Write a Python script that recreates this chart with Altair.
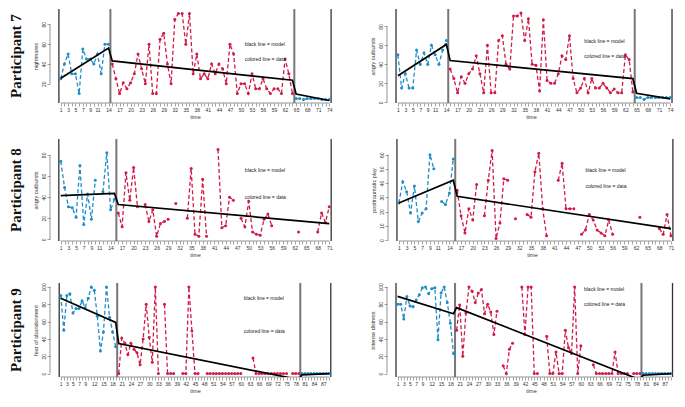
import altair as alt
import pandas as pd

BLUE = "#1f8dc6"
RED = "#d11a4a"

# ---------------- data ----------------
# Participant 7 - nightmares (baseline / intervention / follow-up)
p7n_a = [25, 40, 50, 30, 30, 10, 55, 45, 45, 40, 50, 30, 60, 60]
p7n_b = [40, 25, 10, 21, 15, 21, 30, 50, 35, 20, 60, 10, 10, 65, 71, 40, 20, 85, 91, 91,
         60, 91, 30, 50, 25, 30, 25, 40, 30, 40, 35, 20, 60, 50, 10, 20, 20, 10, 30, 15,
         15, 25, 15, 10, 15, 15, 10, 45, 30, 10]
p7n_c = [5, 5, 4, 5, 5, 5, 5, 4, 4, 4]
p7n_model_t = [1, 14, 15, 64, 65, 74]
p7n_model_y = [25.5, 56, 43, 23.5, 9.5, 3]

# Participant 7 - angry outbursts
p7a_a = [50, 15, 30, 15, 15, 55, 40, 52, 40, 60, 50, 40, 55, 65]
p7a_b = [35, 25, 10, 27, 20, 30, 35, 49, 30, 10, 60, 10, 10, 65, 70, 40, 35, 91, 91, 94,
         65, 88, 40, 39, 12, 87, 23, 20, 20, 30, 49, 45, 70, 25, 10, 15, 25, 10, 25, 15,
         15, 20, 15, 10, 14, 10, 10, 50, 45, 11]
p7a_c = [5, 5, 3, 5, 5, 5, 5, 5, 5, 5]
p7a_model_t = [1, 14, 15, 64, 65, 74]
p7a_model_y = [28, 61, 44, 25, 9.5, 3.7]

# Participant 8 - angry outbursts
p8a_a = [74, 49, 31, 30, 21, 70, 14, 43, 19, 56, None, 45, 82, 28, 38]
p8a_b = [25, 12, 63, 37, 68, 31, None, 33, 17, 28, 3, 15, 17, 19, None, 34, None, None,
         20, 67, 5, 3, 57, 3, None, None, 85, 11, 13, 40, 37, None, 20, 12, 36, 7, 5, 4,
         19, 24, 13, None, None, None, None, None, None, 7, None, None, None, None,
         7, 25, 16, 31]
p8a_model_t = [1, 15, 16, 71]
p8a_model_y = [41.5, 43.5, 33, 15]

# Participant 8 - posttraumatic play
p8p_a = [26, 41, 34, 19, 38, 13, 19, 22, 60, 50, None, 27, 25, 33, 57]
p8p_b = [35, 17, 5, 22, 14, 39, None, 17, 42, 63, 1, 12, 43, 42, None, 15, None, None,
         18, 16, 48, 61, 22, 3, None, None, 42, 54, 22, 22, 22, None, 4, 7, 18, 14, 7, 5,
         3, 14, 4, None, None, None, None, None, None, 16, None, None, None, None,
         8, 4, 18, 3]
p8p_model_t = [1, 15, 16, 71]
p8p_model_y = [26, 42, 30.7, 8]

# Participant 9 - fear of abandonment
p9f_a = [90, 50, 90, 92, 70, 75, 75, 84, 76, 87, 100, 96, 66, 26, 48, 100, 65, 48, 31]
p9f_b = [0, 41, 35, 22, 35, 28, 24, 10, 40, 80, 42, 13, 100, 0, None, 80, 0, 0, 0, None,
         None, 0, 0, 100, 49, 0, 0, None, None, 0, 0, 0, 0, 0, 0, 0, 0, 0, 0, 0, 0,
         None, None, None, 18, 0, 0, 0, 0, 0, 0, 0, 0, 0, 0, 0, None, 0, 0, 0]
p9f_c = [0, 0, 0, 0, 0, 0, 0, 0, 0, 0]
p9f_model_t = [1, 19, 20, 79, 80, 89]
p9f_model_y = [87, 59, 34.6, -7, -1.5, 0]

# Participant 9 - intense distress
p9d_a = [80, 80, 63, 89, 78, 77, 85, 91, 99, 100, 92, 98, 99, 39, 93, 100, 82, 58, 23]
p9d_b = [50, 79, 20, 70, 100, 95, 82, 93, 97, 69, 80, 71, 45, 72, None, 9, 0, 28, 35, None,
         None, 100, 45, 100, 100, 0, 0, None, None, 43, 0, 0, 25, 0, 0, 50, 30, 23, 100, 0,
         32, None, None, None, 10, 0, 0, 0, 0, 0, 0, 25, 0, 0, 0, 0, None, 0, 0, 0]
p9d_c = [0, 0, 0, 0, 0, 0, 0, 0, 0, 0]
p9d_model_t = [1, 19, 20, 79, 80, 89]
p9d_model_y = [89, 69, 76, -7.2, -2, 0]

# tick labels
p7_ticks = [1, 3, 5, 7, 9, 11, 14, 17, 20, 23, 26, 29, 32, 35, 38, 41, 44, 47, 50, 53, 56,
            59, 62, 65, 68, 71, 74]
p8_ticks = [1, 3, 5, 7, 9, 11, 14, 17, 20, 23, 26, 29, 32, 35, 38, 41, 44, 47, 50, 53, 56,
            59, 62, 65, 68, 71]
p9_ticks = [1, 3, 5, 7, 9, 12, 15, 18, 21, 24, 27, 30, 33, 36, 39, 42, 45, 48, 51, 54, 57,
            60, 63, 66, 69, 72, 75, 78, 81, 84, 87]

notes = ["black line = model", "colored line = data"]
participants = ["Participant 7", "Participant 8", "Participant 9"]


def panel(a, b, c, mt, my, ytitle, yticks, ydom, xdom, xlabs, note_t, note_y, w, h):
    phases = [("base", a), ("treat", b)] + ([("follow", c)] if c else [])
    recs = []
    t = 1
    for name, vals in phases:
        seg = 0
        for v in vals:
            if v is None:
                seg += 1
            else:
                recs.append(dict(t=t, v=v, phase=name, seg=f"{name}{seg}"))
            t += 1
    n = t - 1
    df = pd.DataFrame(recs)
    edges = pd.DataFrame({"t": [0.5, n + 0.5]})
    pl = [len(a) + 0.5]
    if c:
        pl.append(len(a) + len(b) + 0.5)
    plines = pd.DataFrame({"t": pl})
    model = pd.DataFrame({"t": mt, "v": my})
    notedf = pd.DataFrame({"t": [note_t, note_t], "v": note_y, "txt": notes})
    yl = pd.DataFrame({"t": [xdom[0]], "v": [yticks[0]], "v2": [yticks[-1]]})
    xl = pd.DataFrame({"t": [1], "t2": [n], "v": [ydom[0]]})

    xaxis = alt.Axis(values=list(range(1, n + 1)), title="time", labelOverlap=False,
                     labelExpr=f"indexof({xlabs}, datum.value) >= 0 ? datum.label : ''",
                     labelPadding=1, titlePadding=2)
    yaxis = alt.Axis(values=yticks, title=ytitle, labelAngle=-90, labelPadding=1,
                     titlePadding=3, labelOverlap=False)
    xs = alt.Scale(domain=xdom, nice=False, zero=False)
    ys = alt.Scale(domain=ydom, nice=False, zero=False)
    X = alt.X("t:Q", scale=xs, axis=xaxis)
    Y = alt.Y("v:Q", scale=ys, axis=yaxis)
    cscale = alt.Scale(domain=["base", "treat", "follow"], range=[BLUE, RED, BLUE])

    yline = alt.Chart(yl).mark_rule(color="#666", strokeWidth=0.7).encode(
        x=X, y=Y, y2="v2:Q")
    xline = alt.Chart(xl).mark_rule(color="#666", strokeWidth=0.7).encode(
        x=X, x2="t2:Q", y=Y)
    e = alt.Chart(edges).mark_rule(color="#333", strokeWidth=1.3).encode(x=X)
    p = alt.Chart(plines).mark_rule(color="#777", strokeWidth=2).encode(x=X)
    lines = alt.Chart(df).mark_line(strokeDash=[4, 2.5], strokeWidth=1.3).encode(
        x=X, y=Y, detail="seg:N", color=alt.Color("phase:N", scale=cscale, legend=None))
    pts = alt.Chart(df).mark_circle(size=9, opacity=1).encode(
        x=X, y=Y, color=alt.Color("phase:N", scale=cscale, legend=None))
    mline = alt.Chart(model).mark_line(color="black", strokeWidth=1.7, clip=True).encode(x=X, y=Y)
    txt = alt.Chart(notedf).mark_text(align="left", fontSize=5, color="#222",
                                      font="Liberation Sans").encode(x=X, y=Y, text="txt:N")
    return alt.layer(e, p, yline, xline, lines, pts, mline, txt).properties(width=w, height=h)


def label(text, h):
    return alt.Chart(pd.DataFrame({"txt": [text]})).mark_text(
        angle=270, font="Liberation Serif", fontWeight="bold", fontSize=15, color="#111"
    ).encode(text="txt:N").properties(width=16, height=h)


WL, WR = 290, 288
H1, H2, H3 = 94, 102, 94

c1 = panel(p7n_a, p7n_b, p7n_c, p7n_model_t, p7n_model_y, "nightmares", [20, 40, 60, 80],
           [0.5, 95.5], [-1.92, 76.92], p7_ticks, 51, [60, 45], WL, H1)
c2 = panel(p7a_a, p7a_b, p7a_c, p7a_model_t, p7a_model_y, "angry outbursts", [0, 20, 40, 60, 80],
           [-0.7, 98.3], [-1.92, 75.3], p7_ticks, 51, [65, 49], WR, H1)
c3 = panel(p8a_a, p8a_b, None, p8a_model_t, p8a_model_y, "angry outbursts", [0, 20, 40, 60, 80],
           [-1.5, 95], [-1.8, 73.8], p8_ticks, 49, [66, 40], WL, H2)
c4 = panel(p8p_a, p8p_b, None, p8p_model_t, p8p_model_y, "posttraumatic play",
           [0, 10, 20, 30, 40, 50, 60], [-0.7, 71], [-1.8, 72.3], p8_ticks, 49, [49, 38], WR, H2)
c5 = panel(p9f_a, p9f_b, p9f_c, p9f_model_t, p9f_model_y, "fear of abandonment",
           [0, 20, 40, 60, 80, 100], [-4, 104.5], [-2.52, 92.52], p9_ticks, 61, [87, 49], WL, H3)
c6 = panel(p9d_a, p9d_b, p9d_c, p9d_model_t, p9d_model_y, "intense distress",
           [0, 20, 40, 60, 80, 100], [-4, 104.5], [-2.4, 90.3], p9_ticks, 61, [98, 80], WR, H3)

r1 = alt.hconcat(label(participants[0], H1), alt.hconcat(c1, c2, spacing=30), spacing=8)
r2 = alt.hconcat(label(participants[1], H2), alt.hconcat(c3, c4, spacing=30), spacing=8)
r3 = alt.hconcat(label(participants[2], H3), alt.hconcat(c5, c6, spacing=30), spacing=8)

chart = alt.vconcat(alt.vconcat(r1, r2, spacing=18), r3, spacing=24).properties(
    padding=0
).configure_view(stroke=None).configure_axis(
    labelFont="Liberation Sans", titleFont="Liberation Sans", labelFontSize=5,
    titleFontSize=5.5, titleFontWeight="normal", labelColor="#333", titleColor="#333",
    tickColor="#666", tickSize=3, tickWidth=0.6, domain=False, grid=False,
    labelOverlap=False
)

chart.save("out.html", embed_options={"renderer": "svg", "actions": False})
